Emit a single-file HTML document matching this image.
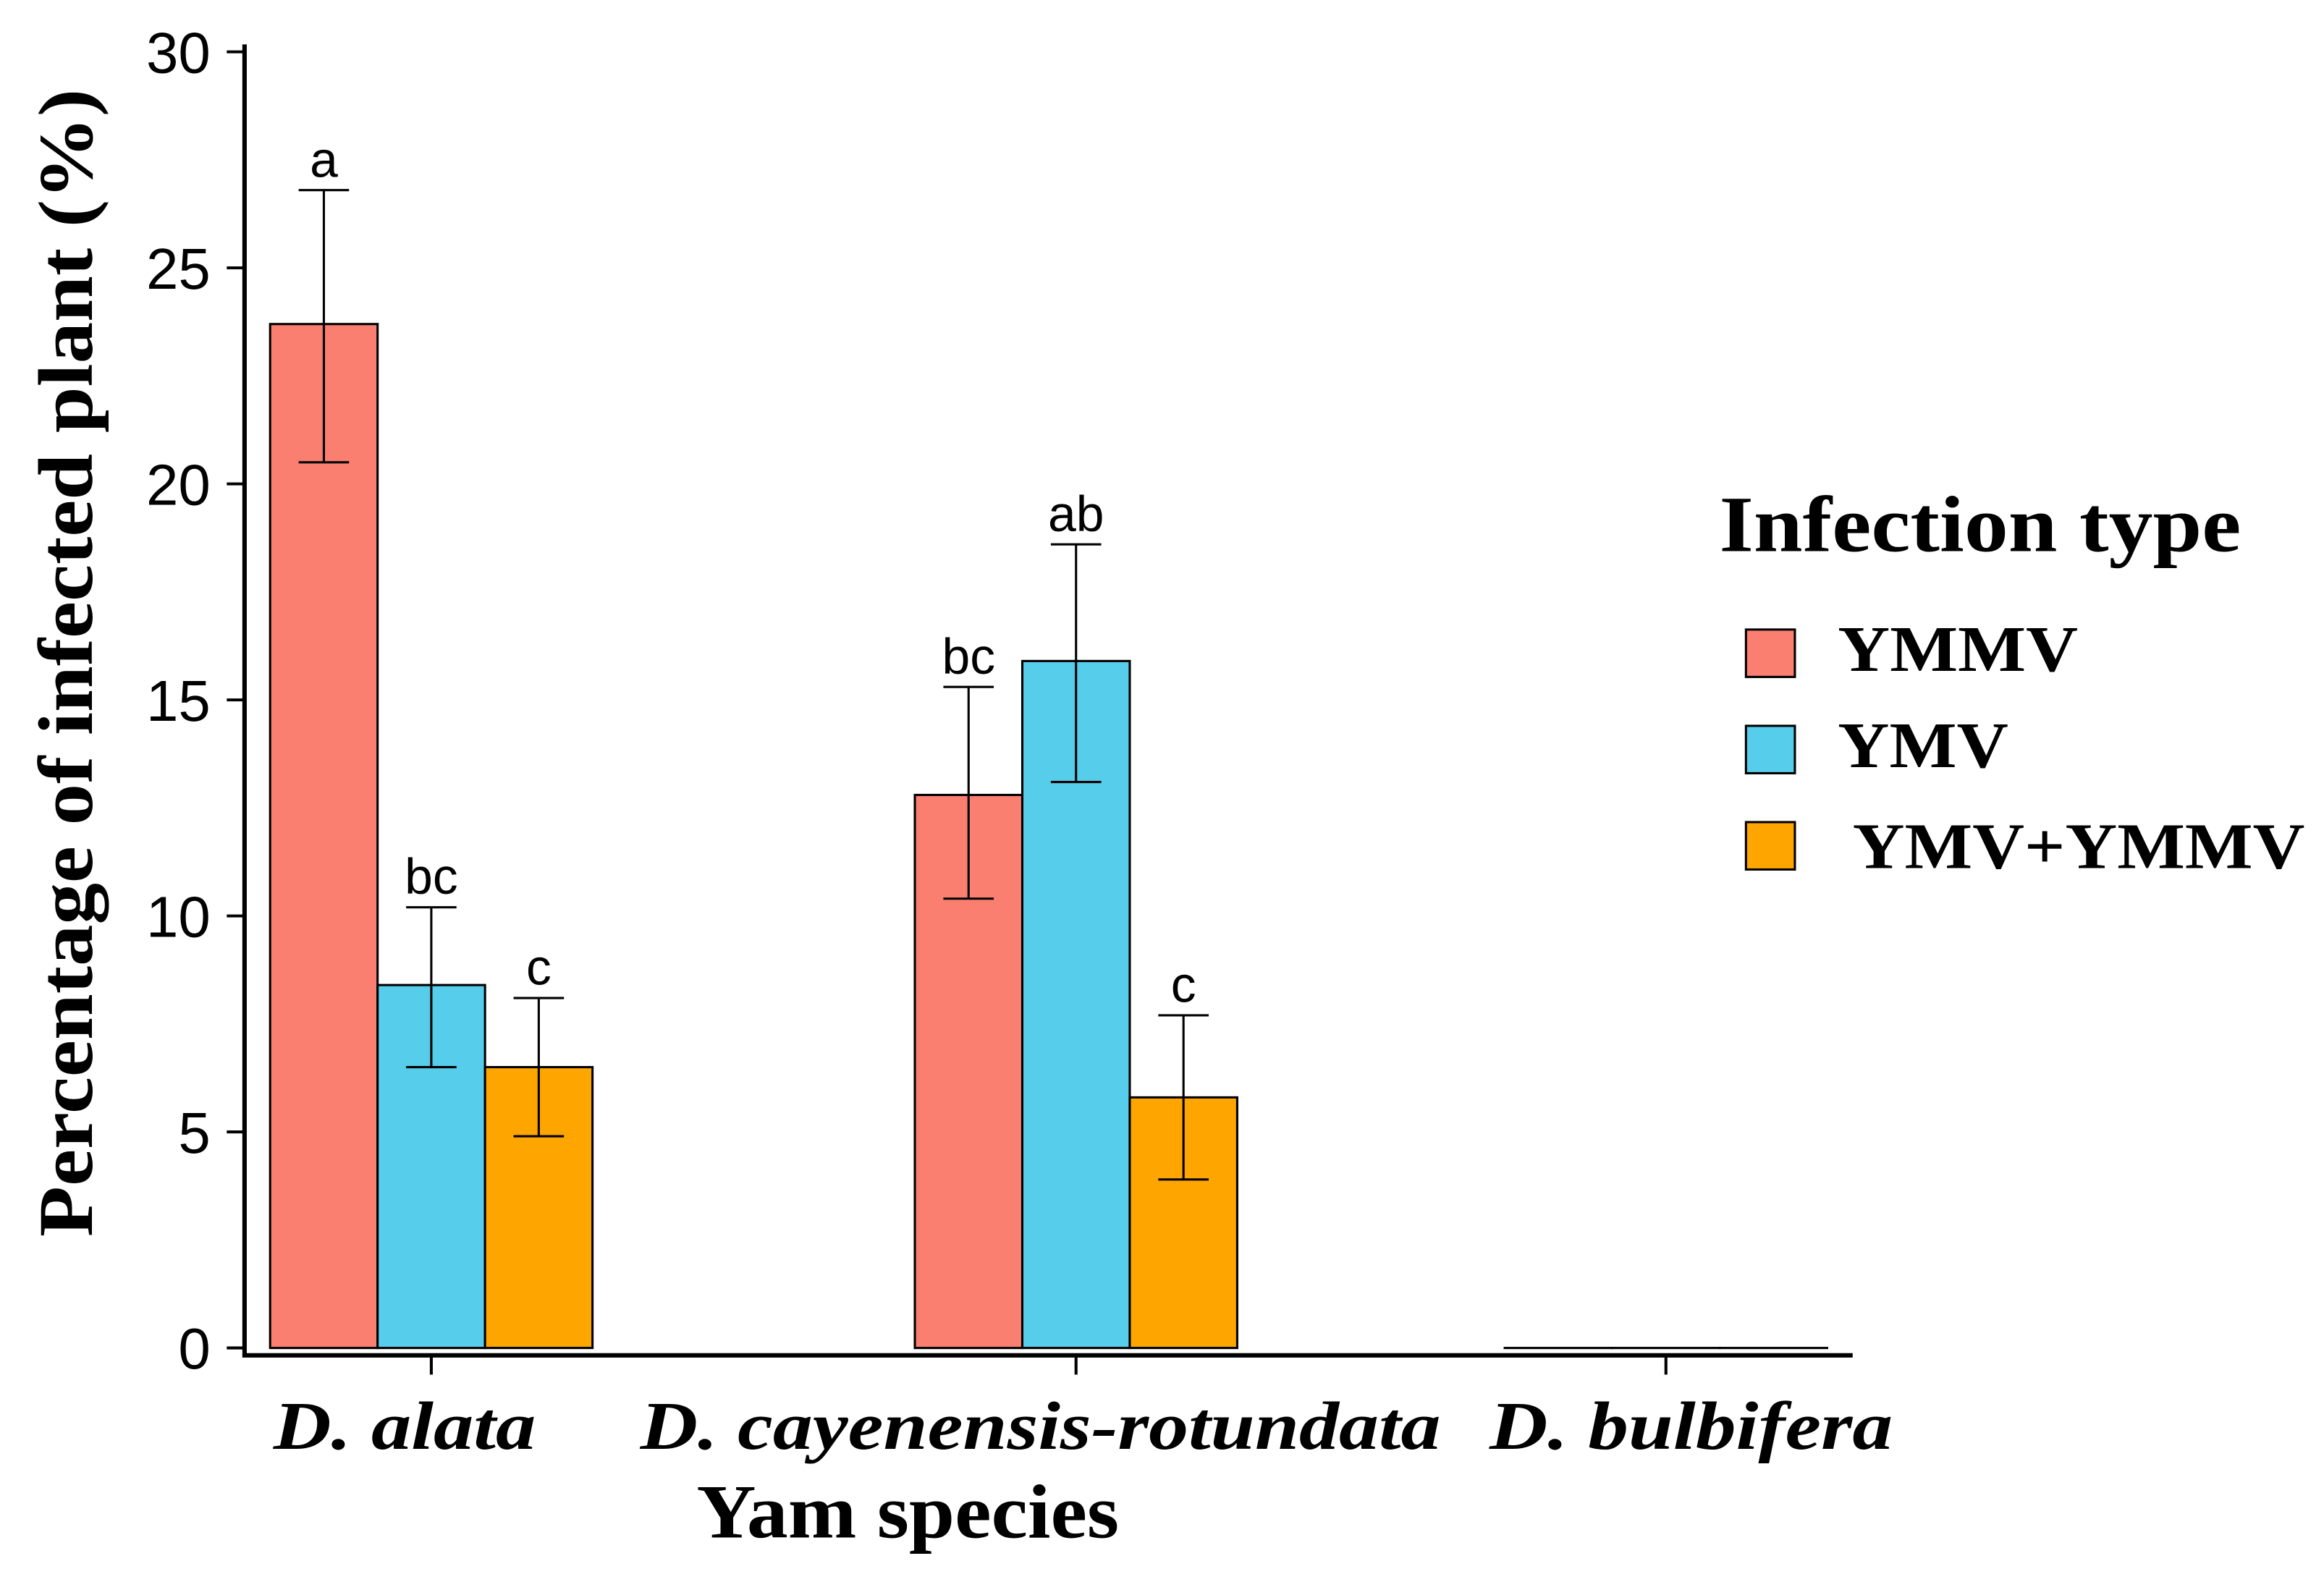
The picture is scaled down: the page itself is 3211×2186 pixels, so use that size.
<!DOCTYPE html>
<html><head><meta charset="utf-8"><style>
html,body{margin:0;padding:0;background:#fff;}
svg{display:block;}
</style></head><body>
<svg id="chart" width="3211" height="2186" viewBox="0 0 1568 1068" preserveAspectRatio="none" xmlns="http://www.w3.org/2000/svg">
<rect width="1568" height="1068" fill="#fff"/>
<g id="plot"></g>
<g id="legend">
<text x="1160" y="372" textLength="352" lengthAdjust="spacingAndGlyphs" font-family="Liberation Serif, serif" font-weight="bold" font-size="54">Infection type</text>
<rect x="1178" y="425" width="33" height="32" fill="#FA7F70" stroke="#000" stroke-width="1.5"/>
<text x="1240" y="453" textLength="162" lengthAdjust="spacingAndGlyphs" font-family="Liberation Serif, serif" font-weight="bold" font-size="44">YMMV</text>
<rect x="1178" y="490" width="33" height="32" fill="#56CDEB" stroke="#000" stroke-width="1.5"/>
<text x="1240" y="518" textLength="115" lengthAdjust="spacingAndGlyphs" font-family="Liberation Serif, serif" font-weight="bold" font-size="44">YMV</text>
<rect x="1178" y="555" width="33" height="32" fill="#FFA500" stroke="#000" stroke-width="1.5"/>
<text x="1250" y="586" textLength="305" lengthAdjust="spacingAndGlyphs" font-family="Liberation Serif, serif" font-weight="bold" font-size="44">YMV+YMMV</text>
</g>
<text x="470" y="1038" textLength="285" lengthAdjust="spacingAndGlyphs" font-family="Liberation Serif, serif" font-weight="bold" font-size="52">Yam species</text>
<text transform="translate(62,835) rotate(-90)" textLength="775" lengthAdjust="spacingAndGlyphs" font-family="Liberation Serif, serif" font-weight="bold" font-size="52">Percentage of infected plant (%)</text>
</svg>
<script>
const categories = ["D. alata", "D. cayenensis-rotundata", "D. bulbifera"];
const seriesNames = ["YMMV", "YMV", "YMV+YMMV"];
const ymmvValues = [23.7, 12.8, 0];
const ymvValues = [8.4, 15.9, 0];
const bothValues = [6.5, 5.8, 0];
const ymmvErrLow = [20.5, 10.4, null];
const ymmvErrHigh = [26.8, 15.3, null];
const ymvErrLow = [6.5, 13.1, null];
const ymvErrHigh = [10.2, 18.6, null];
const bothErrLow = [4.9, 3.9, null];
const bothErrHigh = [8.1, 7.7, null];
const ymmvLetters = ["a", "bc", ""];
const ymvLetters = ["bc", "ab", ""];
const bothLetters = ["c", "c", ""];
const yTicks = [0, 5, 10, 15, 20, 25, 30];

const NS = "http://www.w3.org/2000/svg";
const plot = document.getElementById("plot");
const y0 = 910, yTop = 35, yMax = 30;
function yScale(v){ return y0 - (v / yMax) * (y0 - yTop); }
const centers = [291, 726, 1124];
function xCenter(i){ return centers[i]; }
const labelCenters = [273, 702, 1141];
const labelWidths = [177, 540, 272];
const barW = 72.5;
const colors = ["#FA7F70", "#56CDEB", "#FFA500"];
const vals = [ymmvValues, ymvValues, bothValues];
const lows = [ymmvErrLow, ymvErrLow, bothErrLow];
const highs = [ymmvErrHigh, ymvErrHigh, bothErrHigh];
const letters = [ymmvLetters, ymvLetters, bothLetters];

function mk(tag, attrs){ const e = document.createElementNS(NS, tag); for (const k in attrs) e.setAttribute(k, attrs[k]); plot.appendChild(e); return e; }

categories.forEach((c, i) => {
  for (let s = 0; s < 3; s++) {
    const v = vals[s][i];
    const x = xCenter(i) + (s - 1.5) * barW;
    const r = mk("rect", {x: x, y: yScale(v), width: barW, height: Math.max(y0 - yScale(v), 0.01), fill: colors[s], stroke: "#000", "stroke-width": 1.5});
    
    
    const cx = x + barW / 2;
    if (lows[s][i] !== null) {
      const lo = yScale(lows[s][i]), hi = yScale(highs[s][i]);
      const g = mk("path", {d: `M${cx},${lo}V${hi}M${cx-17},${lo}H${cx+17}M${cx-17},${hi}H${cx+17}`, stroke: "#000", "stroke-width": 1.5, fill: "none"});
      
      
      const t = mk("text", {x: cx, y: hi - 9, "text-anchor": "middle", "font-family": "Liberation Sans, sans-serif", "font-size": 34});
      t.textContent = letters[s][i];
      
      
    }
  }
  const tk = mk("line", {x1: xCenter(i), x2: xCenter(i), y1: 915, y2: 928, stroke: "#000", "stroke-width": 2});
  
  
  const lb = mk("text", {x: labelCenters[i] - labelWidths[i] / 2, y: 978, textLength: labelWidths[i], lengthAdjust: "spacingAndGlyphs", "font-family": "Liberation Serif, serif", "font-weight": "bold", "font-style": "italic", "font-size": 46});
  lb.textContent = c;
  
  
});

yTicks.forEach(t => {
  const y = yScale(t);
  const l = mk("line", {x1: 153, x2: 165, y1: y, y2: y, stroke: "#000", "stroke-width": 2});
  
  
  const tx = mk("text", {x: 142, y: y + 14, "text-anchor": "end", "font-family": "Liberation Sans, sans-serif", "font-size": 39});
  tx.textContent = t;
  
  
});

const ax = mk("path", {d: "M165,30V915H1250", stroke: "#000", "stroke-width": 3, fill: "none"});


</script>
</body></html>
